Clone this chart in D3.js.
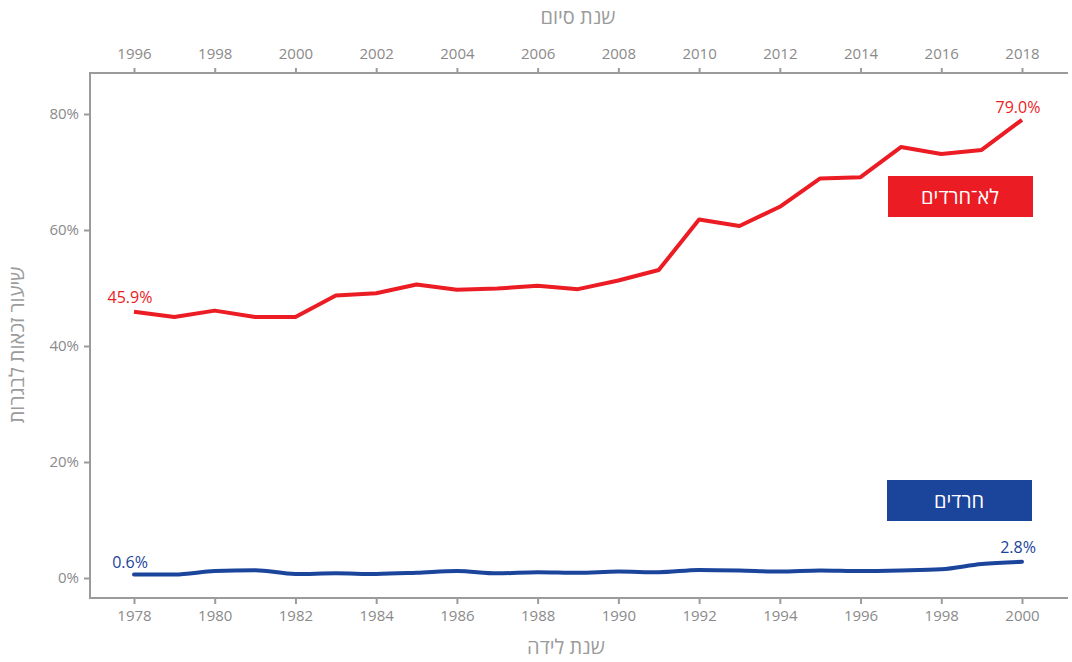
<!DOCTYPE html>
<html>
<head>
<meta charset="utf-8">
<title>שיעור זכאות לבגרות</title>
<script src="https://d3js.org/d3.v7.min.js"></script>
<style>
  body { margin: 0; background: #fff; }
  svg text { font-family: "Open Sans", "DejaVu Sans", sans-serif; }
</style>
</head>
<body>
<script>
// birth years (bottom axis) and graduation years (top axis = birth + 18)
var birthYears = d3.range(1978, 2001);
var nonHaredi = [45.9, 45.0, 46.1, 45.0, 45.0, 48.7, 49.1, 50.6, 49.7, 49.9, 50.4, 49.8,
                 51.3, 53.1, 61.8, 60.7, 64.0, 68.9, 69.1, 74.3, 73.1, 73.8, 79.0];
var haredi = [0.6, 0.6, 1.2, 1.35, 0.7, 0.8, 0.7, 0.9, 1.2, 0.8, 1.0, 0.9,
              1.1, 1.0, 1.4, 1.3, 1.1, 1.3, 1.2, 1.3, 1.5, 2.4, 2.8];
var yTicks = [0, 20, 40, 60, 80];
var bottomTicks = d3.range(1978, 2001, 2);
var topTicks = d3.range(1996, 2019, 2);

var width = 1072, height = 662;
var frameLeft = 90, frameRight = 1068, frameTop = 73, frameBottom = 598;
var red = "#ec1c24", blue = "#1b449b", gray = "#9b9b9b", labelGray = "#8a8a8a";

var svg = d3.select("body").append("svg")
    .attr("width", width)
    .attr("height", height);

var x = d3.scaleLinear().domain([1978, 2000]).range([134, 1022]);
var xTop = d3.scaleLinear().domain([1996, 2018]).range([134, 1022]);
var y = d3.scaleLinear().domain([0, 80]).range([578, 114]);

// frame lines
svg.append("line").attr("x1", frameLeft).attr("x2", frameRight).attr("y1", frameBottom).attr("y2", frameBottom)
    .attr("stroke", gray).attr("stroke-width", 2);
svg.append("line").attr("x1", frameLeft).attr("x2", frameRight).attr("y1", frameTop).attr("y2", frameTop)
    .attr("stroke", gray).attr("stroke-width", 2);
svg.append("line").attr("x1", frameLeft).attr("x2", frameLeft).attr("y1", frameTop - 1).attr("y2", frameBottom + 1)
    .attr("stroke", gray).attr("stroke-width", 2);

function styleAxis(g) {
    g.select(".domain").remove();
    g.selectAll(".tick line").attr("stroke", gray).attr("stroke-width", 2);
    g.selectAll(".tick text").attr("fill", labelGray).style("font-size", "15px");
}

svg.append("g")
    .attr("transform", "translate(0," + frameBottom + ")")
    .call(d3.axisBottom(x).tickValues(bottomTicks).tickFormat(d3.format("d")).tickSize(6).tickPadding(6))
    .call(styleAxis);

svg.append("g")
    .attr("transform", "translate(0," + frameTop + ")")
    .call(d3.axisTop(xTop).tickValues(topTicks).tickFormat(d3.format("d")).tickSize(5).tickPadding(9))
    .call(styleAxis);

svg.append("g")
    .attr("transform", "translate(" + frameLeft + ",0)")
    .call(d3.axisLeft(y).tickValues(yTicks).tickFormat(function(d) { return d + "%"; }).tickSize(6).tickPadding(5))
    .call(styleAxis);

// axis titles
svg.append("text").attr("x", 578).attr("y", 24).attr("text-anchor", "middle")
    .attr("fill", gray).style("font-size", "20px").text("שנת סיום");
svg.append("text").attr("x", 566).attr("y", 654).attr("text-anchor", "middle")
    .attr("fill", gray).style("font-size", "20px").text("שנת לידה");
svg.append("text").attr("transform", "translate(24,345) rotate(-90)").attr("text-anchor", "middle")
    .attr("fill", gray).style("font-size", "20px").text("שיעור זכאות לבגרות");

// lines
var line = d3.line()
    .x(function(d, i) { return x(birthYears[i]); })
    .y(function(d) { return y(d); });

svg.append("path").datum(nonHaredi).attr("d", line)
    .attr("fill", "none").attr("stroke", red).attr("stroke-width", 4).attr("stroke-linejoin", "round");
svg.append("path").datum(haredi).attr("d", d3.line().curve(d3.curveMonotoneX)
        .x(function(d, i) { return x(birthYears[i]); }).y(function(d) { return y(d); }))
    .attr("fill", "none").attr("stroke", blue).attr("stroke-width", 4).attr("stroke-linecap", "round");

// end labels
var last = birthYears.length - 1;
function endLabel(val, year, color, dy) {
    svg.append("text").attr("x", x(year) - 4).attr("y", y(val) + dy)
        .attr("text-anchor", "middle").attr("fill", color).style("font-size", "16px")
        .text(val.toFixed(1) + "%");
}
endLabel(nonHaredi[0], birthYears[0], red, -9);
endLabel(nonHaredi[last], birthYears[last], red, -7);
endLabel(haredi[0], birthYears[0], blue, -7);
endLabel(haredi[last], birthYears[last], blue, -9);

// series labels
function seriesBox(bx, by, color, label) {
    svg.append("rect").attr("x", bx).attr("y", by).attr("width", 145).attr("height", 41).attr("fill", color);
    svg.append("text").attr("x", bx + 72).attr("y", by + 28).attr("text-anchor", "middle")
        .attr("fill", "#fff").style("font-size", "20px").text(label);
}
seriesBox(888, 176, red, "לא־חרדים");
seriesBox(887, 480, blue, "חרדים");
</script>
</body>
</html>
